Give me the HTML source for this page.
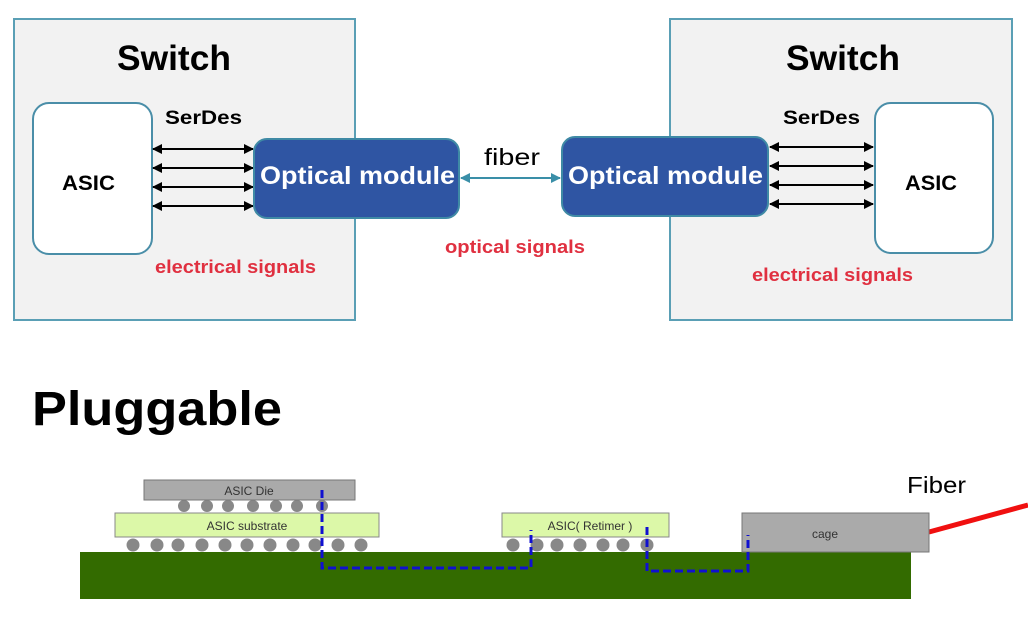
<!DOCTYPE html>
<html><head><meta charset="utf-8"><style>
html,body{margin:0;padding:0;background:#fff;}
svg{display:block;font-family:"Liberation Sans",sans-serif;}
</style></head><body>
<svg width="1028" height="626" viewBox="0 0 1028 626" xmlns="http://www.w3.org/2000/svg">
<defs>
<marker id="ab" markerWidth="10" markerHeight="10" refX="9" refY="5" orient="auto-start-reverse" markerUnits="userSpaceOnUse">
<path d="M0,0 L10,5 L0,10 z" fill="#000"/></marker>
<marker id="at" markerWidth="10" markerHeight="10" refX="9" refY="5" orient="auto-start-reverse" markerUnits="userSpaceOnUse">
<path d="M0,0 L10,5 L0,10 z" fill="#3a8fa8"/></marker>
</defs>
<!-- Left switch -->
<rect x="14" y="19" width="341" height="301" fill="#f2f2f2" stroke="#5a9fb5" stroke-width="2"/>
<text x="117" y="70" font-size="35" font-weight="bold" textLength="114" lengthAdjust="spacingAndGlyphs">Switch</text>
<rect x="33" y="103" width="119" height="151" rx="16" fill="#fff" stroke="#4a8ea8" stroke-width="2"/>
<text x="62" y="190" font-size="21" font-weight="bold" textLength="53" lengthAdjust="spacingAndGlyphs">ASIC</text>
<text x="165" y="124" font-size="19" font-weight="bold" textLength="77" lengthAdjust="spacingAndGlyphs">SerDes</text>
<g stroke="#000" stroke-width="2" marker-start="url(#ab)" marker-end="url(#ab)">
<line x1="153" y1="149" x2="253" y2="149"/><line x1="153" y1="168" x2="253" y2="168"/>
<line x1="153" y1="187" x2="253" y2="187"/><line x1="153" y1="206" x2="253" y2="206"/></g>
<rect x="254" y="139" width="205" height="79" rx="13" fill="#2f55a3" stroke="#3f8aa5" stroke-width="2"/>
<text x="260" y="184" font-size="25" font-weight="bold" fill="#fff" textLength="195" lengthAdjust="spacingAndGlyphs">Optical module</text>
<text x="155" y="273" font-size="18" font-weight="bold" fill="#e03040" textLength="161" lengthAdjust="spacingAndGlyphs">electrical signals</text>
<!-- middle -->
<line x1="461" y1="178" x2="560" y2="178" stroke="#3a8fa8" stroke-width="2" marker-start="url(#at)" marker-end="url(#at)"/>
<text x="484" y="165" font-size="23" textLength="56" lengthAdjust="spacingAndGlyphs">fiber</text>
<text x="445" y="253" font-size="18" font-weight="bold" fill="#e03040" textLength="140" lengthAdjust="spacingAndGlyphs">optical signals</text>
<!-- Right switch -->
<rect x="670" y="19" width="342" height="301" fill="#f2f2f2" stroke="#5a9fb5" stroke-width="2"/>
<text x="786" y="70" font-size="35" font-weight="bold" textLength="114" lengthAdjust="spacingAndGlyphs">Switch</text>
<rect x="875" y="103" width="118" height="150" rx="16" fill="#fff" stroke="#4a8ea8" stroke-width="2"/>
<text x="905" y="190" font-size="21" font-weight="bold" textLength="52" lengthAdjust="spacingAndGlyphs">ASIC</text>
<text x="783" y="124" font-size="19" font-weight="bold" textLength="77" lengthAdjust="spacingAndGlyphs">SerDes</text>
<g stroke="#000" stroke-width="2" marker-start="url(#ab)" marker-end="url(#ab)">
<line x1="770" y1="147" x2="873" y2="147"/><line x1="770" y1="166" x2="873" y2="166"/>
<line x1="770" y1="185" x2="873" y2="185"/><line x1="770" y1="204" x2="873" y2="204"/></g>
<rect x="562" y="137" width="206" height="79" rx="13" fill="#2f55a3" stroke="#3f8aa5" stroke-width="2"/>
<text x="568" y="184" font-size="25" font-weight="bold" fill="#fff" textLength="195" lengthAdjust="spacingAndGlyphs">Optical module</text>
<text x="752" y="281" font-size="18" font-weight="bold" fill="#e03040" textLength="161" lengthAdjust="spacingAndGlyphs">electrical signals</text>
<!-- Pluggable -->
<text x="32" y="425" font-size="48" font-weight="bold" textLength="250" lengthAdjust="spacingAndGlyphs">Pluggable</text>
<text x="907" y="493" font-size="23" textLength="59" lengthAdjust="spacingAndGlyphs">Fiber</text>
<line x1="929" y1="532" x2="1028" y2="505" stroke="#f01010" stroke-width="5"/>
<rect x="80" y="552" width="831" height="47" fill="#336b00"/>
<g fill="#888">
<circle cx="184" cy="506" r="6"/><circle cx="207" cy="506" r="6"/><circle cx="228" cy="506" r="6"/><circle cx="253" cy="506" r="6"/><circle cx="276" cy="506" r="6"/><circle cx="297" cy="506" r="6"/><circle cx="322" cy="506" r="6"/>
<circle cx="133" cy="545" r="6.5"/><circle cx="157" cy="545" r="6.5"/><circle cx="178" cy="545" r="6.5"/><circle cx="202" cy="545" r="6.5"/><circle cx="225" cy="545" r="6.5"/><circle cx="247" cy="545" r="6.5"/><circle cx="270" cy="545" r="6.5"/><circle cx="293" cy="545" r="6.5"/><circle cx="315" cy="545" r="6.5"/><circle cx="338" cy="545" r="6.5"/><circle cx="361" cy="545" r="6.5"/>
<circle cx="513" cy="545" r="6.5"/><circle cx="537" cy="545" r="6.5"/><circle cx="557" cy="545" r="6.5"/><circle cx="580" cy="545" r="6.5"/><circle cx="603" cy="545" r="6.5"/><circle cx="623" cy="545" r="6.5"/><circle cx="647" cy="545" r="6.5"/>
</g>
<rect x="144" y="480" width="211" height="20" fill="#aaa" stroke="#777" stroke-width="1"/>
<text x="249" y="495" font-size="12" fill="#333" text-anchor="middle">ASIC Die</text>
<rect x="115" y="513" width="264" height="24" fill="#dcf8a8" stroke="#888" stroke-width="1"/>
<text x="247" y="530" font-size="12" fill="#333" text-anchor="middle">ASIC substrate</text>
<rect x="502" y="513" width="167" height="24" fill="#dcf8a8" stroke="#888" stroke-width="1"/>
<text x="590" y="530" font-size="12" fill="#333" text-anchor="middle">ASIC( Retimer )</text>
<rect x="742" y="513" width="187" height="39" fill="#aaa" stroke="#777" stroke-width="1"/>
<text x="825" y="538" font-size="12" fill="#333" text-anchor="middle">cage</text>
<g fill="none" stroke="#1010d0" stroke-width="3" stroke-dasharray="8,4">
<polyline points="322,490 322,568 531,568 531,530"/>
<polyline points="647,527 647,571 748,571 748,535"/>
</g>
</svg>
</body></html>
